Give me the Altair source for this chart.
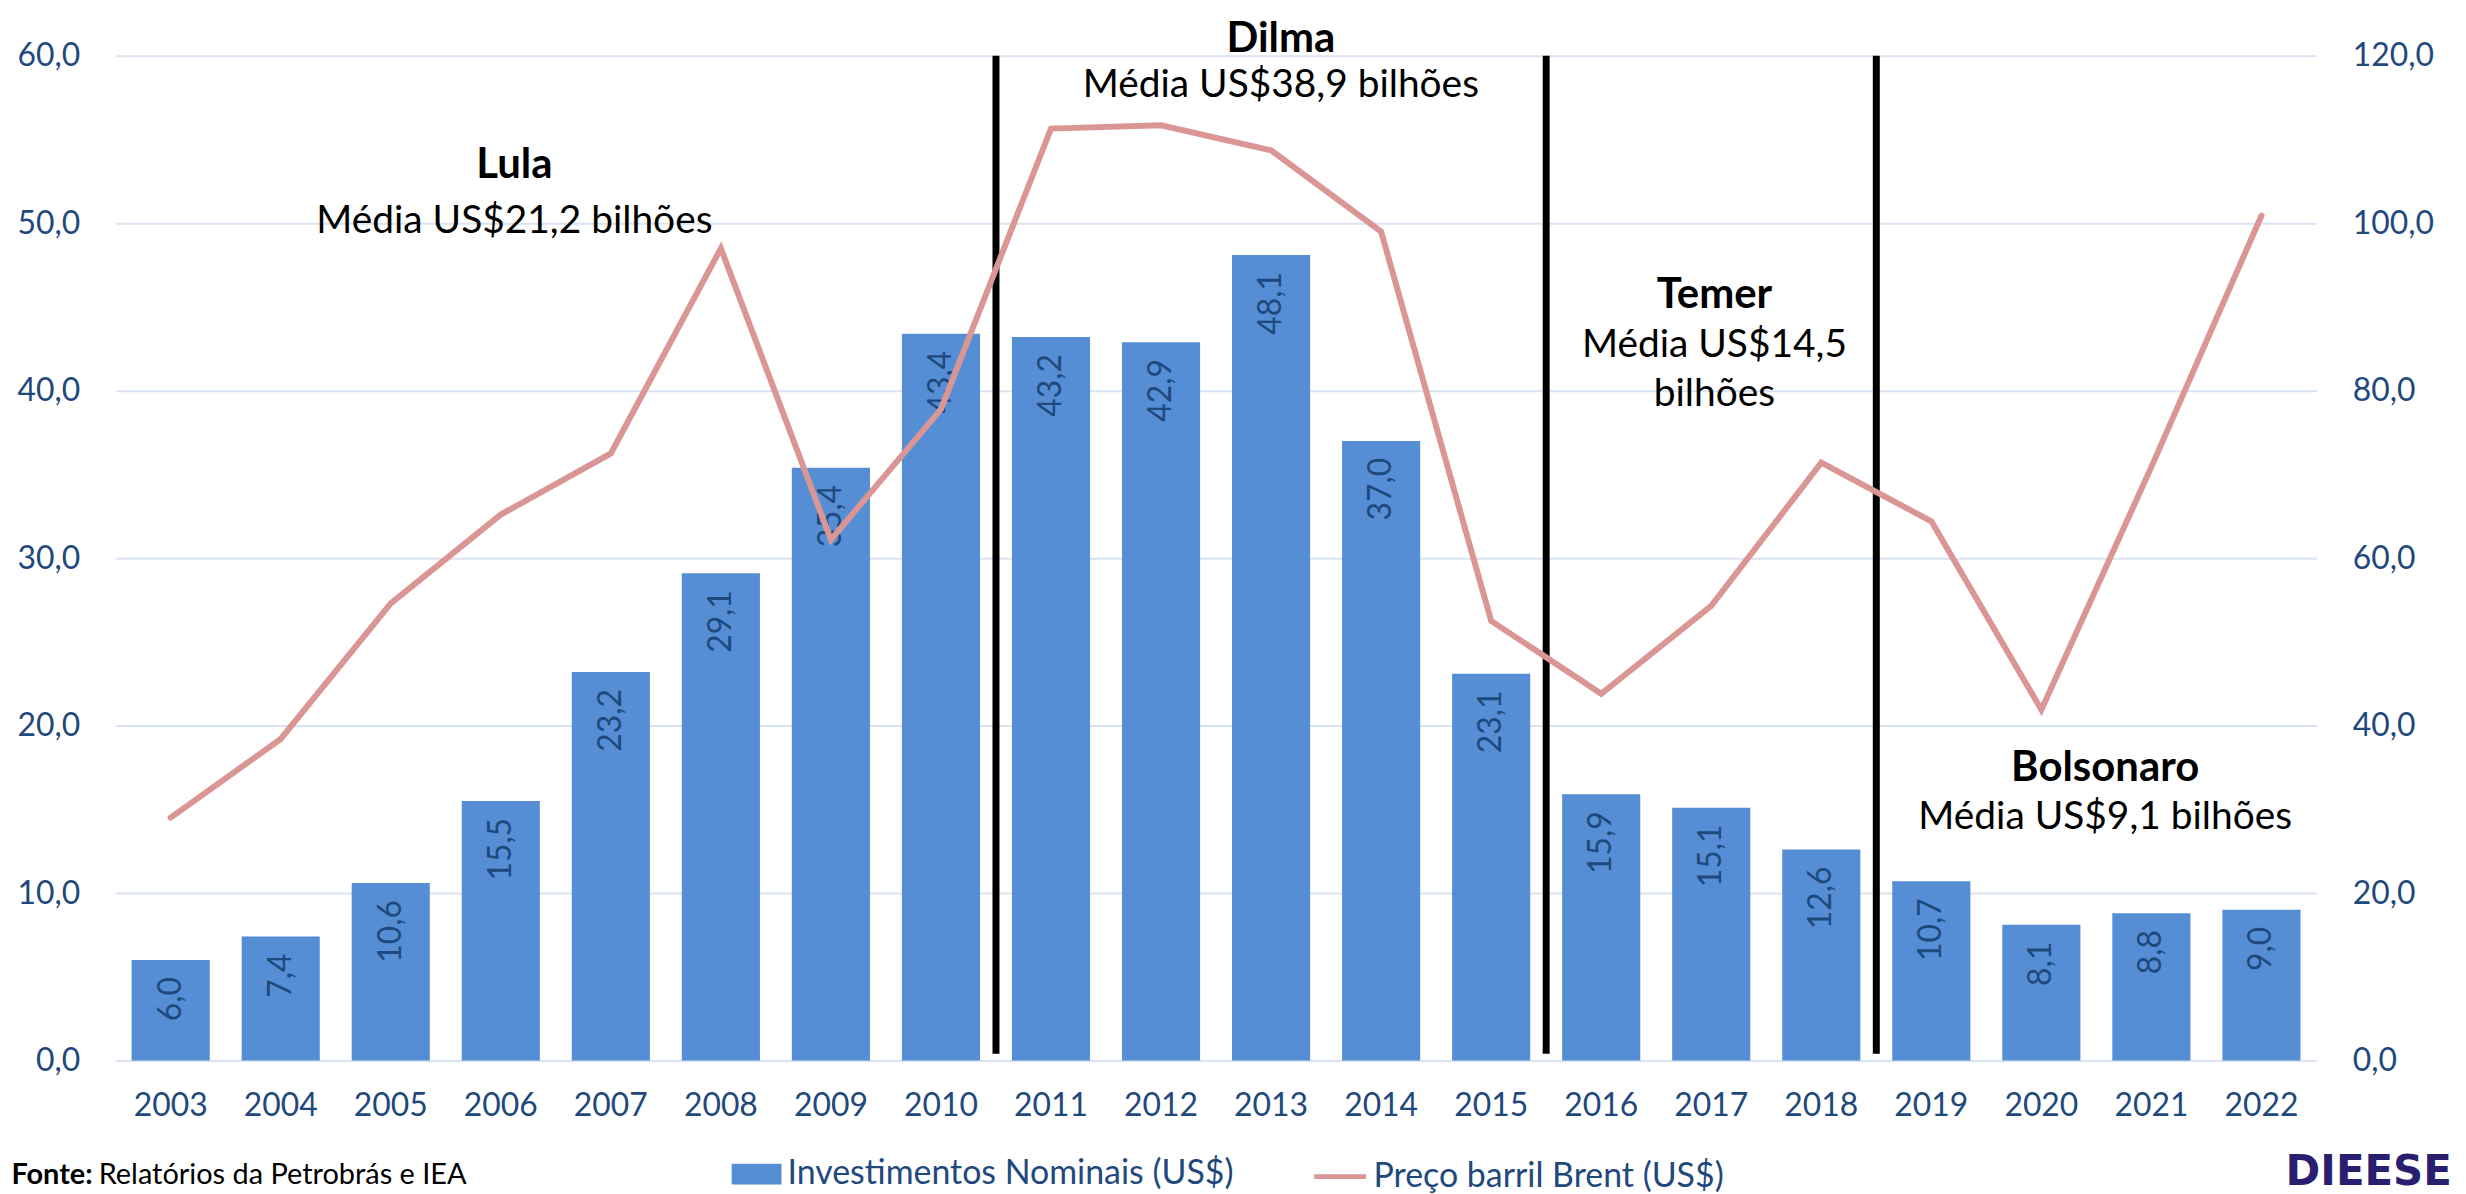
import altair as alt
import pandas as pd

# ---------------- data ----------------
years = [str(y) for y in range(2003, 2023)]
invest = [6.0, 7.4, 10.6, 15.5, 23.2, 29.1, 35.4, 43.4, 43.2, 42.9,
          48.1, 37.0, 23.1, 15.9, 15.1, 12.6, 10.7, 8.1, 8.8, 9.0]
brent = [29.0, 38.4, 54.6, 65.2, 72.5, 97.0, 62.2, 77.8, 111.3, 111.7,
         108.7, 99.0, 52.5, 43.8, 54.3, 71.4, 64.4, 41.9, 70.9, 100.9]
period_bounds = ["2011", "2016", "2019"]
left_ticks = [0, 10, 20, 30, 40, 50, 60]
right_ticks = [0, 20, 40, 60, 80, 100, 120]
series_bar = "Investimentos Nominais (US$)"
series_line = "Preço barril Brent (US$)"

# ---------------- style ----------------
FONT = "Lato"
AXIS_TXT = "#1F497D"
BAR = "#558ED5"
LINE = "#D99694"
GRID = "#D9E3F2"

df = pd.DataFrame({"ano": years, "inv": invest, "brent": brent})
df["inv_lbl"] = [f"{v:.1f}".replace(".", ",") for v in invest]
df["s1"] = series_bar
df["s2"] = series_line

bounds = pd.DataFrame({"ano": period_bounds, "top": [60.0] * 3, "bot": [0.4] * 3})

fmt_expr = "replace(format(datum.value, '.1f'), '.', ',')"

x_scale = alt.Scale(domain=years, paddingInner=0, paddingOuter=0)
x_axis = alt.Axis(title=None, labelAngle=0, labelFontSize=32, labelFont=FONT,
                  labelColor=AXIS_TXT, ticks=False, domain=False, labelPadding=30)
x_enc = alt.X("ano:N", scale=x_scale, axis=x_axis)

y_scale = alt.Scale(domain=[0, 60], nice=False, zero=True)
y_axis = alt.Axis(title=None, orient="left", values=left_ticks, labelExpr=fmt_expr,
                  labelFontSize=32, labelFont=FONT, labelColor=AXIS_TXT,
                  grid=True, gridColor=GRID, gridWidth=2, ticks=False,
                  domain=False, labelPadding=36)

bars = alt.Chart(df).mark_bar(width=alt.RelativeBandSize(0.71)).encode(
    x=x_enc,
    y=alt.Y("inv:Q", scale=y_scale, axis=y_axis),
    fill=alt.Fill("s1:N", scale=alt.Scale(domain=[series_bar], range=[BAR]),
                  legend=alt.Legend(title=None, orient="none", legendX=618, legendY=1097,
                                    padding=0, symbolType="M-1,-0.42H1V0.42H-1Z",
                                    symbolSize=2500, symbolStrokeWidth=0,
                                    labelFont=FONT, labelFontSize=34,
                                    labelColor=AXIS_TXT, labelOffset=6,
                                    labelLimit=800)),
)

bar_labels = alt.Chart(df).mark_text(
    angle=270, align="right", baseline="middle", dx=-17,
    font=FONT, fontSize=32, color=AXIS_TXT,
).encode(
    x=x_enc,
    y=alt.Y("inv:Q", scale=y_scale, axis=y_axis),
    text="inv_lbl:N",
)

rules = alt.Chart(bounds).mark_rule(color="black", strokeWidth=7).encode(
    x=alt.X("ano:N", scale=x_scale, axis=x_axis, bandPosition=0),
    y=alt.Y("top:Q", scale=y_scale, axis=y_axis),
    y2="bot:Q",
)


def txt(s, x, y, size, bold=False, color="black", align="center", font=FONT):
    return alt.Chart(alt.Data(values=[{"t": s}])).mark_text(
        font=font, fontSize=size, fontWeight="bold" if bold else "normal",
        color=color, align=align, baseline="alphabetic",
    ).encode(x=alt.value(x), y=alt.value(y), text="t:N")


HEAD = 42
SUB = 39
annotations = [
    txt("Lula", 400, 123, HEAD, bold=True),
    txt("Média US$21,2 bilhões", 400, 178, SUB),
    txt("Dilma", 1169, -4, HEAD, bold=True),
    txt("Média US$38,9 bilhões", 1169, 41, SUB),
    txt("Temer", 1604, 253, HEAD, bold=True),
    txt("Média US$14,5", 1604, 302, SUB),
    txt("bilhões", 1604, 351, SUB),
    txt("Bolsonaro", 1996, 728, HEAD, bold=True),
    txt("Média US$9,1 bilhões", 1996, 776, SUB),
    txt("Fonte:", -23, 1132, 29, bold=True, align="right"),
    txt("Relatórios da Petrobrás e IEA", -17, 1132, 29, align="left"),
    txt("DIEESE", 2177, 1133, 42, bold=True, color="#2A1E6E", align="left",
        font="DejaVu Sans"),
]

left_layer = alt.layer(bars, bar_labels, rules, *annotations)

line = alt.Chart(df).mark_line(strokeWidth=6, strokeCap="round", strokeJoin="miter").encode(
    x=x_enc,
    y=alt.Y("brent:Q", scale=alt.Scale(domain=[0, 120], nice=False),
            axis=alt.Axis(title=None, orient="right", values=right_ticks,
                          labelExpr=fmt_expr, labelFontSize=32, labelFont=FONT,
                          labelColor=AXIS_TXT, grid=False, ticks=False,
                          domain=False, labelPadding=36)),
    stroke=alt.Stroke("s2:N", scale=alt.Scale(domain=[series_line], range=[LINE]),
                      legend=alt.Legend(title=None, orient="none", legendX=1200, legendY=1096,
                                        padding=0, symbolType="stroke", symbolSize=2704,
                                        symbolStrokeWidth=5, labelFont=FONT,
                                        labelFontSize=34, labelColor=AXIS_TXT,
                                        labelOffset=5, labelLimit=800)),
)

chart = alt.layer(left_layer, line).resolve_scale(
    y="independent", fill="independent", stroke="independent"
).properties(
    width=2208,
    height=1008,
    autosize=alt.AutoSizeParams(type="none"),
    padding={"left": 108, "top": 46, "right": 142, "bottom": 132},
    background="white",
).configure_view(strokeWidth=0)

chart.save("out.html", embed_options={"renderer": "svg", "actions": False})
